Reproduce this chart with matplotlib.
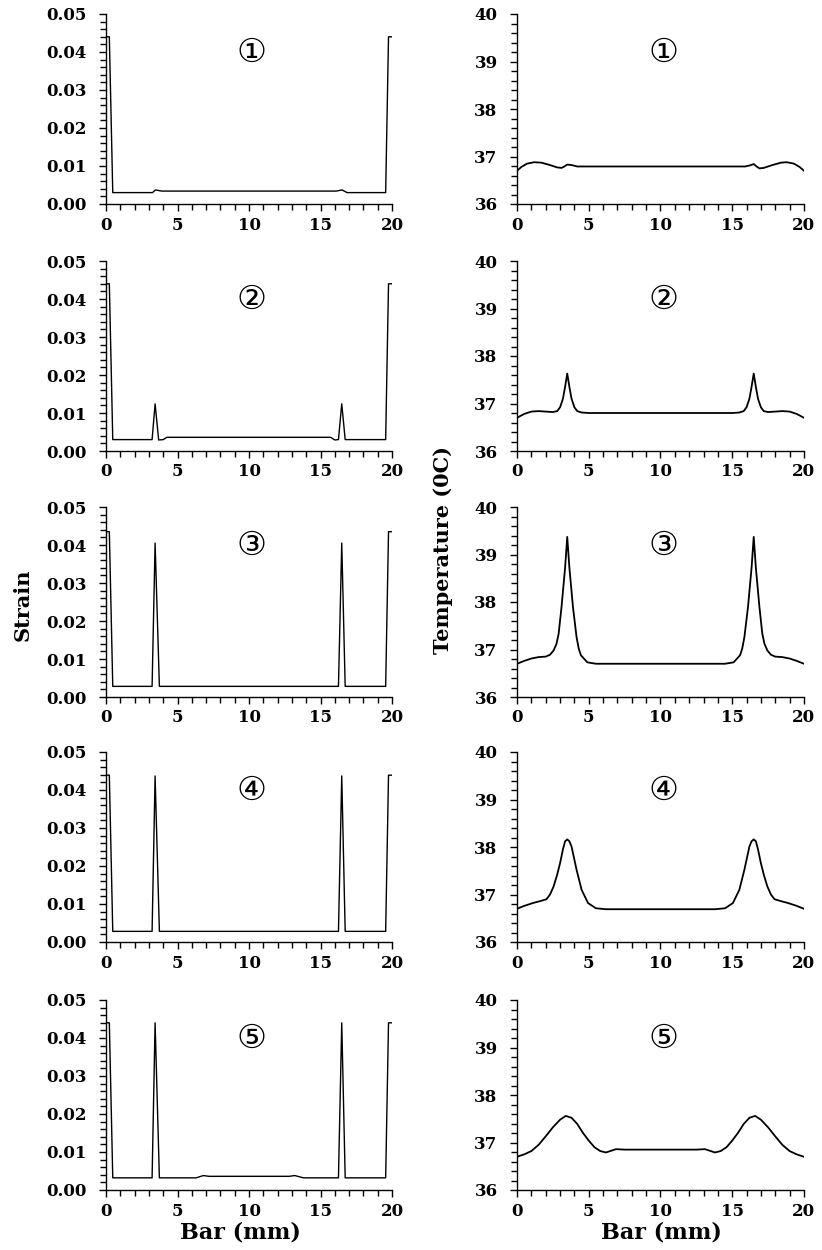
import matplotlib
matplotlib.use('Agg')
import matplotlib.pyplot as plt
from matplotlib.ticker import MultipleLocator

# ---------------- strain data (left column) ----------------
strain1_x = [0, 0.23, 0.47, 3.25, 3.45, 3.9, 16.1, 16.5, 16.85, 19.55, 19.75, 20]
strain1_y = [0.044, 0.044, 0.003, 0.003, 0.0037, 0.0034, 0.0034, 0.0037, 0.003, 0.003, 0.044, 0.044]

strain2_x = [0, 0.23, 0.47, 3.22, 3.43, 3.68, 4.0, 4.25, 15.7, 16.0, 16.25, 16.48, 16.72, 19.55, 19.75, 20]
strain2_y = [0.044, 0.044, 0.003, 0.003, 0.0124, 0.0029, 0.003, 0.0036, 0.0036, 0.0029, 0.003, 0.0124, 0.003, 0.003, 0.044, 0.044]

strain3_x = [0, 0.23, 0.47, 3.22, 3.43, 3.73, 16.25, 16.48, 16.72, 19.55, 19.75, 20]
strain3_y = [0.0435, 0.0435, 0.0028, 0.0028, 0.0405, 0.0028, 0.0028, 0.0405, 0.0028, 0.0028, 0.0435, 0.0435]

strain4_x = [0, 0.23, 0.47, 3.22, 3.43, 3.73, 16.25, 16.48, 16.72, 19.55, 19.75, 20]
strain4_y = [0.0439, 0.0439, 0.0028, 0.0028, 0.0437, 0.0028, 0.0028, 0.0437, 0.0028, 0.0028, 0.0439, 0.0439]

strain5_x = [0, 0.23, 0.47, 3.22, 3.43, 3.73, 6.3, 6.8, 7.2, 12.8, 13.2, 13.8, 16.25, 16.48, 16.72, 19.55, 19.75, 20]
strain5_y = [0.044, 0.044, 0.0032, 0.0032, 0.044, 0.0032, 0.0032, 0.0038, 0.0036, 0.0036, 0.0038, 0.0032, 0.0032, 0.044, 0.0032, 0.0032, 0.044, 0.044]

# ---------------- temperature data (right column) ----------------
temp1_x = [0, 0.3, 0.7, 1.2, 1.7, 2.3, 2.8, 3.1, 3.3, 3.5, 3.8, 4.2, 15.9,
           16.2, 16.5, 16.7, 16.9, 17.2, 17.8, 18.4, 18.8, 19.3, 19.7, 20]
temp1_y = [36.70, 36.78, 36.85, 36.88, 36.87, 36.82, 36.77, 36.76, 36.79, 36.83, 36.82, 36.79, 36.79,
           36.81, 36.84, 36.79, 36.75, 36.76, 36.82, 36.87, 36.88, 36.85, 36.78, 36.70]

temp2_x = [0, 0.5, 1.0, 1.5, 2.0, 2.5, 2.8, 3.0, 3.2, 3.35, 3.5, 3.65, 3.8, 4.0, 4.2, 4.5, 5.0,
           15.0, 15.5, 15.8, 16.0, 16.2, 16.35, 16.5, 16.65, 16.8, 17.0, 17.2, 17.5, 18.0, 18.5, 19.0, 19.5, 20]
temp2_y = [36.70, 36.78, 36.83, 36.84, 36.83, 36.82, 36.84, 36.92, 37.10, 37.35, 37.63, 37.35, 37.10, 36.92, 36.84, 36.81, 36.80,
           36.80, 36.81, 36.84, 36.92, 37.10, 37.35, 37.63, 37.35, 37.10, 36.92, 36.84, 36.82, 36.83, 36.84, 36.83, 36.78, 36.70]

temp3_x = [0, 0.5, 1.0, 1.5, 2.0, 2.3, 2.55, 2.75, 2.9, 3.1, 3.35, 3.5, 3.65, 3.9, 4.15, 4.3, 4.45, 4.9, 5.5,
           14.5, 15.1, 15.55, 15.7, 15.85, 16.1, 16.35, 16.5, 16.65, 16.9, 17.1, 17.25, 17.45, 17.7, 18.0, 18.5, 19.0, 19.5, 20]
temp3_y = [36.70, 36.76, 36.81, 36.84, 36.85, 36.89, 36.98, 37.12, 37.33, 37.89, 38.72, 39.37, 38.72, 37.89, 37.26, 37.02, 36.88, 36.73, 36.70,
           36.70, 36.73, 36.88, 37.02, 37.26, 37.89, 38.72, 39.37, 38.72, 37.89, 37.33, 37.12, 36.98, 36.89, 36.85, 36.84, 36.81, 36.76, 36.70]

temp4_x = [0, 0.5, 1.1, 1.6, 2.05, 2.3, 2.55, 2.8, 3.0, 3.2, 3.35, 3.5, 3.65, 3.8, 4.15, 4.5, 4.95, 5.5, 6.2,
           13.8, 14.5, 15.05, 15.5, 15.85, 16.2, 16.35, 16.5, 16.65, 16.8, 17.0, 17.2, 17.45, 17.7, 17.95, 18.4, 18.9, 19.5, 20]
temp4_y = [36.70, 36.76, 36.82, 36.86, 36.90, 37.00, 37.17, 37.42, 37.66, 37.95, 38.12, 38.16, 38.12, 38.01, 37.52, 37.10, 36.82, 36.71, 36.69,
           36.69, 36.71, 36.82, 37.10, 37.52, 38.01, 38.12, 38.16, 38.12, 37.95, 37.66, 37.42, 37.17, 37.00, 36.90, 36.86, 36.82, 36.76, 36.70]

temp5_x = [0, 0.5, 1.0, 1.5, 2.0, 2.5, 3.0, 3.4, 3.8, 4.2, 4.6, 5.0, 5.4, 5.8, 6.2, 6.5, 6.9, 7.5,
           12.5, 13.1, 13.5, 13.8, 14.2, 14.6, 15.0, 15.4, 15.8, 16.2, 16.6, 17.0, 17.5, 18.0, 18.5, 19.0, 19.5, 20]
temp5_y = [36.70, 36.75, 36.82, 36.95, 37.13, 37.32, 37.48, 37.56, 37.52, 37.39, 37.20, 37.04, 36.90, 36.82, 36.79, 36.82, 36.86, 36.85,
           36.85, 36.86, 36.82, 36.79, 36.82, 36.90, 37.04, 37.20, 37.39, 37.52, 37.56, 37.48, 37.32, 37.13, 36.95, 36.82, 36.75, 36.70]

case_labels = ['\u2460', '\u2461', '\u2462', '\u2463', '\u2464']

strain_x = [strain1_x, strain2_x, strain3_x, strain4_x, strain5_x]
strain_y = [strain1_y, strain2_y, strain3_y, strain4_y, strain5_y]
temp_x = [temp1_x, temp2_x, temp3_x, temp4_x, temp5_x]
temp_y = [temp1_y, temp2_y, temp3_y, temp4_y, temp5_y]

#
def styleAxis(ax, ymin, ymax, ymajor, yminor, yfmt):
     # only left and bottom spines, ticks outward with minor ticks
     ax.spines['top'].set_visible(False)
     ax.spines['right'].set_visible(False)
     ax.set_xlim(0, 20)
     ax.set_ylim(ymin, ymax)
     ax.xaxis.set_major_locator(MultipleLocator(5))
     ax.xaxis.set_minor_locator(MultipleLocator(1))
     ax.yaxis.set_major_locator(MultipleLocator(ymajor))
     ax.yaxis.set_minor_locator(MultipleLocator(yminor))
     ax.yaxis.set_major_formatter(plt.FormatStrFormatter(yfmt))
     ax.tick_params(which='both', direction='out', width=1, color='black')
     ax.tick_params(which='major', length=5)
     ax.tick_params(which='minor', length=4)
     ax.tick_params(axis='x', pad=4)
     ax.tick_params(axis='y', pad=9)
     for lab in ax.get_xticklabels() + ax.get_yticklabels():
          lab.set_fontfamily('DejaVu Serif')
          lab.set_fontweight('bold')
          lab.set_fontsize(12)
     for sp in ['left', 'bottom']:
          ax.spines[sp].set_linewidth(1)

fig = plt.figure(figsize=(8.22, 12.5), dpi=100)

bottoms = [0.8368, 0.6392, 0.4424, 0.2464, 0.048]
height = 0.152
circ_font = ['DejaVu Sans', 'Noto Sans CJK SC']

for ii in range(5):
     axl = fig.add_axes([0.129, bottoms[ii], 0.348, height])
     axl.plot(strain_x[ii], strain_y[ii], color='black', lw=1.0)
     styleAxis(axl, 0, 0.05, 0.01, 0.002, '%.2f')
     axl.text(0.51, 0.80, case_labels[ii], transform=axl.transAxes,
              ha='center', va='center', fontsize=24, family=circ_font)

     axr = fig.add_axes([0.629, bottoms[ii], 0.349, height])
     axr.plot(temp_x[ii], temp_y[ii], color='black', lw=1.3)
     styleAxis(axr, 36, 40, 1, 0.2, '%d')
     axr.text(0.51, 0.80, case_labels[ii], transform=axr.transAxes,
              ha='center', va='center', fontsize=24, family=circ_font)

# axis titles
fig.text(0.028, 1 - 605/1250., 'Strain', rotation=90, ha='center', va='center',
         fontsize=15, fontweight='bold', family='DejaVu Serif')
fig.text(443/822., 1 - 550/1250., 'Temperature (0C)', rotation=90, ha='center', va='center',
         fontsize=15, fontweight='bold', family='DejaVu Serif')
fig.text(240/822., 1 - 1233/1250., 'Bar (mm)', ha='center', va='center',
         fontsize=16, fontweight='bold', family='DejaVu Serif')
fig.text(661/822., 1 - 1233/1250., 'Bar (mm)', ha='center', va='center',
         fontsize=16, fontweight='bold', family='DejaVu Serif')

fig.savefig('out.png', dpi=100)
